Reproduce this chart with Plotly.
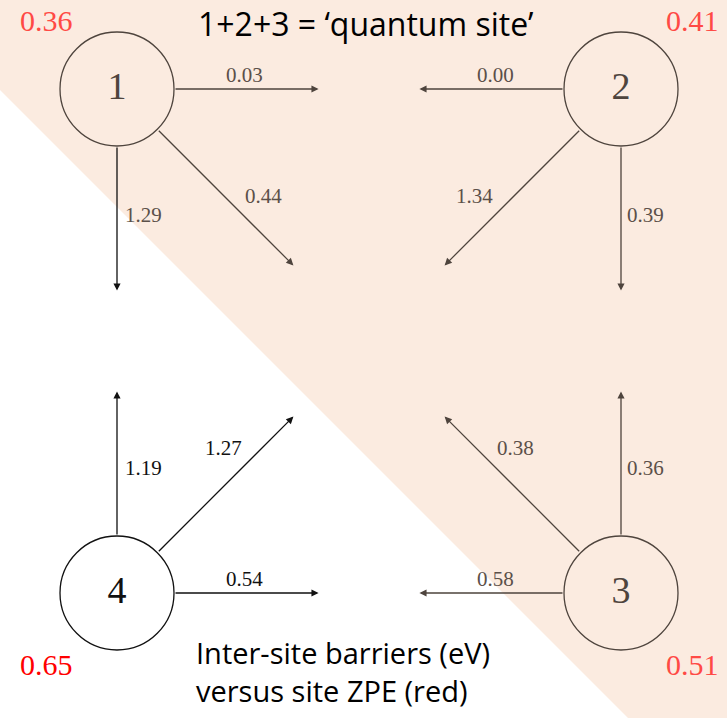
import plotly.graph_objects as go

# ---- data ----
sites = ["1", "2", "3", "4"]
site_zpe = ["0.36", "0.41", "0.51", "0.65"]
edge_from = ["1", "1", "1", "2", "2", "2", "3", "3", "3", "4", "4", "4"]
edge_to   = ["2", "3", "4", "1", "4", "3", "2", "1", "4", "1", "2", "3"]
barriers  = ["0.03", "0.44", "1.29", "0.00", "1.34", "0.39", "0.36", "0.38", "0.58", "1.19", "1.27", "0.54"]
title_text = "1+2+3 = \u2018quantum site\u2019"
note_lines = ["Inter-site barriers (eV)", "versus site ZPE (red)"]

# ---- layout (pixel-space positions) ----
W, H = 727, 718
centers = {"1": (117, 89), "2": (621, 89), "3": (621, 593), "4": (117, 593)}
R = 57
zpe_pos = {"1": (46, 20), "2": (692, 20), "3": (692, 664), "4": (46, 664)}
label_off = {
    ("1", "2"): (127, -14), ("1", "3"): (146, 107), ("1", "4"): (26, 126),
    ("2", "1"): (-126, -14), ("2", "4"): (-147, 107), ("2", "3"): (24, 126),
    ("4", "1"): (26, -125), ("4", "2"): (106, -145), ("4", "3"): (127, -14),
    ("3", "2"): (24, -125), ("3", "1"): (-106, -145), ("3", "4"): (-126, -14),
}
shade = "#FBEBE0"
ink_shade = "#4e443d"
ink_white = "#111111"
txt_shade = "#5b5049"
red_shade = "#ff4a45"
red_white = "#ff0000"

def in_white(x, y):
    return y > 90 + x

fig = go.Figure()

shapes = [dict(type="path", path=f"M0,0 L{W},0 L{W},{H} L{H-90},{H} L0,90 Z",
               xref="x", yref="y", fillcolor=shade, line=dict(width=0), layer="below")]
for s in sites:
    cx, cy = centers[s]
    col = ink_white if s == "4" else ink_shade
    shapes.append(dict(type="circle", xref="x", yref="y", x0=cx - R, x1=cx + R,
                       y0=cy - R, y1=cy + R, line=dict(color=col, width=1.3),
                       fillcolor="rgba(0,0,0,0)", layer="above"))

annotations = []
for a, b, val in zip(edge_from, edge_to, barriers):
    cx, cy = centers[a]
    tx, ty = centers[b]
    dx, dy = tx - cx, ty - cy
    diag = dx != 0 and dy != 0
    f = 0.35 if diag else 0.40
    L = (dx * dx + dy * dy) ** 0.5
    sx, sy = cx + dx / L * R, cy + dy / L * R
    ex, ey = cx + dx * f, cy + dy * f
    white = a == "4" or (a, b) == ("1", "4")
    col = ink_white if white else ink_shade
    annotations.append(dict(x=ex, y=ey, ax=sx, ay=sy, xref="x", yref="y", axref="x", ayref="y",
                            text="", showarrow=True, arrowhead=2, arrowsize=1.1, arrowwidth=1.3,
                            arrowcolor=col, standoff=0, startstandoff=0))
    ox, oy = label_off[(a, b)]
    lx, ly = cx + ox, cy + oy
    annotations.append(dict(x=lx, y=ly, xref="x", yref="y", text=val, showarrow=False,
                            font=dict(family="Liberation Serif", size=21,
                                      color=ink_white if in_white(lx, ly) else txt_shade)))

for s, z in zip(sites, site_zpe):
    px, py = zpe_pos[s]
    annotations.append(dict(x=px, y=py, xref="x", yref="y", text=z, showarrow=False,
                            font=dict(family="Liberation Serif", size=30,
                                      color=red_white if in_white(px, py) else red_shade)))

annotations.append(dict(x=366, y=23, xref="x", yref="y", text=title_text, showarrow=False,
                        font=dict(family="Open Sans", size=32, color="#000000")))
annotations.append(dict(x=194, y=671, xref="x", yref="y", text="<br>".join(note_lines),
                        showarrow=False, xanchor="left", align="left",
                        font=dict(family="Open Sans", size=29, color="#000000")))

fig.add_trace(go.Scatter(
    x=[centers[s][0] for s in sites], y=[centers[s][1] for s in sites],
    text=sites, mode="text", hoverinfo="skip",
    textfont=dict(family="Liberation Serif", size=38,
                  color=[ink_white if s == "4" else ink_shade for s in sites]),
    showlegend=False))

fig.update_layout(
    width=W, height=H, margin=dict(l=0, r=0, t=0, b=0),
    paper_bgcolor="white", plot_bgcolor="white",
    xaxis=dict(range=[0, W], visible=False, fixedrange=True),
    yaxis=dict(range=[H, 0], visible=False, fixedrange=True),
    shapes=shapes, annotations=annotations, showlegend=False,
)
fig.write_html("out.html", config={"displayModeBar": False},
               post_script="document.body.style.margin='0';")
